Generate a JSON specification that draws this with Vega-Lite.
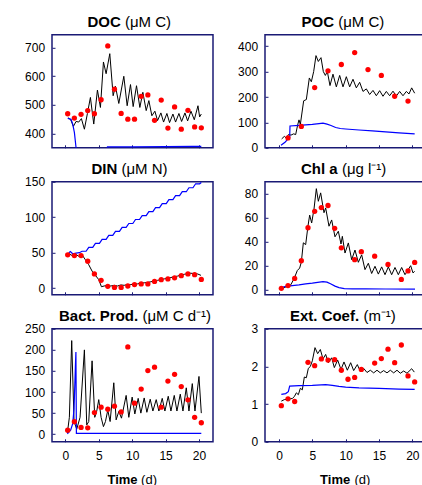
{
  "$schema": "https://vega.github.io/schema/vega-lite/v6.json",
  "padding": {"left": 23, "top": 12.8, "right": 0, "bottom": 0},
  "columns": 2,
  "spacing": {"row": 34, "column": 52},
  "bounds": "flush",
  "align": "each",
  "datasets": {
    "DOC": [
      {"series":"model","day":0.4,"value":455},{"series":"model","day":0.8,"value":448},{"series":"model","day":1.2,"value":425},{"series":"model","day":1.6,"value":442},{"series":"model","day":2.0,"value":440},{"series":"model","day":2.4,"value":452},{"series":"model","day":2.85,"value":415},{"series":"model","day":3.3,"value":470},{"series":"model","day":3.75,"value":526},{"series":"model","day":4.25,"value":433},{"series":"model","day":4.8,"value":552},{"series":"model","day":5.25,"value":491},{"series":"model","day":5.7,"value":650},{"series":"model","day":6.1,"value":609},{"series":"model","day":6.65,"value":679},{"series":"model","day":7.15,"value":532},{"series":"model","day":7.5,"value":565},{"series":"model","day":8.0,"value":505},{"series":"model","day":8.75,"value":600},{"series":"model","day":9.25,"value":497},{"series":"model","day":9.75,"value":571},{"series":"model","day":10.15,"value":494},{"series":"model","day":10.65,"value":567},{"series":"model","day":11.15,"value":491},{"series":"model","day":11.6,"value":544},{"series":"model","day":12.1,"value":480},{"series":"model","day":12.5,"value":515},{"series":"model","day":12.95,"value":462},{"series":"model","day":13.4,"value":478},{"series":"model","day":13.8,"value":445},{"series":"model","day":14.3,"value":472},{"series":"model","day":14.7,"value":440},{"series":"model","day":15.2,"value":470},{"series":"model","day":15.6,"value":438},{"series":"model","day":16.1,"value":468},{"series":"model","day":16.5,"value":440},{"series":"model","day":17.0,"value":470},{"series":"model","day":17.4,"value":442},{"series":"model","day":17.9,"value":472},{"series":"model","day":18.3,"value":444},{"series":"model","day":18.8,"value":478},{"series":"model","day":19.3,"value":448},{"series":"model","day":19.85,"value":497},{"series":"model","day":20.1,"value":458},{"series":"model","day":20.35,"value":468},
      {"series":"alt","day":0.35,"value":453},{"series":"alt","day":0.85,"value":450},{"series":"alt","day":1.1,"value":433},{"series":"alt","day":1.35,"value":404},{"series":"alt","day":1.6,"value":350},{"series":"alt","day":1.7,"value":330},{"series":"alt","day":6.0,"value":330},{"series":"alt","day":6.3,"value":353},{"series":"alt","day":10,"value":353},{"series":"alt","day":15,"value":354},{"series":"alt","day":19,"value":355},{"series":"alt","day":20.35,"value":355},
      {"series":"obs","day":0.35,"value":469},{"series":"obs","day":1.35,"value":454},{"series":"obs","day":2.35,"value":467},{"series":"obs","day":3.35,"value":480},{"series":"obs","day":4.35,"value":469},{"series":"obs","day":5.35,"value":518},{"series":"obs","day":6.35,"value":706},{"series":"obs","day":7.35,"value":555},{"series":"obs","day":8.35,"value":470},{"series":"obs","day":9.35,"value":450},{"series":"obs","day":10.35,"value":450},{"series":"obs","day":11.35,"value":530},{"series":"obs","day":12.35,"value":535},{"series":"obs","day":13.35,"value":446},{"series":"obs","day":14.35,"value":517},{"series":"obs","day":15.35,"value":419},{"series":"obs","day":16.35,"value":493},{"series":"obs","day":17.35,"value":415},{"series":"obs","day":18.35,"value":481},{"series":"obs","day":19.35,"value":423},{"series":"obs","day":20.35,"value":420}
    ],
    "POC": [
      {"series":"model","day":0.4,"value":35},{"series":"model","day":0.8,"value":45},{"series":"model","day":1.1,"value":38},{"series":"model","day":1.4,"value":52},{"series":"model","day":1.8,"value":50},{"series":"model","day":2.2,"value":55},{"series":"model","day":2.5,"value":52},{"series":"model","day":2.8,"value":90},{"series":"model","day":3.0,"value":110},{"series":"model","day":3.2,"value":92},{"series":"model","day":3.7,"value":185},{"series":"model","day":4.1,"value":190},{"series":"model","day":4.55,"value":275},{"series":"model","day":4.85,"value":260},{"series":"model","day":5.2,"value":300},{"series":"model","day":5.55,"value":363},{"series":"model","day":5.9,"value":340},{"series":"model","day":6.3,"value":355},{"series":"model","day":6.65,"value":300},{"series":"model","day":6.95,"value":285},{"series":"model","day":7.25,"value":300},{"series":"model","day":7.65,"value":245},{"series":"model","day":8.1,"value":290},{"series":"model","day":8.6,"value":240},{"series":"model","day":9.1,"value":285},{"series":"model","day":9.6,"value":240},{"series":"model","day":10.1,"value":280},{"series":"model","day":10.6,"value":240},{"series":"model","day":11.1,"value":270},{"series":"model","day":11.6,"value":236},{"series":"model","day":12.1,"value":258},{"series":"model","day":12.6,"value":222},{"series":"model","day":13.1,"value":232},{"series":"model","day":13.6,"value":210},{"series":"model","day":14.1,"value":226},{"series":"model","day":14.6,"value":205},{"series":"model","day":15.1,"value":225},{"series":"model","day":15.6,"value":203},{"series":"model","day":16.1,"value":222},{"series":"model","day":16.6,"value":205},{"series":"model","day":17.1,"value":223},{"series":"model","day":17.6,"value":204},{"series":"model","day":18.1,"value":222},{"series":"model","day":18.6,"value":205},{"series":"model","day":19.1,"value":222},{"series":"model","day":19.5,"value":212},{"series":"model","day":19.9,"value":236},{"series":"model","day":20.35,"value":215},
      {"series":"alt","day":0.3,"value":10},{"series":"alt","day":0.9,"value":22},{"series":"alt","day":1.3,"value":33},{"series":"alt","day":1.6,"value":40},{"series":"alt","day":1.65,"value":86},{"series":"alt","day":3,"value":88},{"series":"alt","day":4,"value":90},{"series":"alt","day":5,"value":92},{"series":"alt","day":6,"value":95},{"series":"alt","day":6.6,"value":97},{"series":"alt","day":7.2,"value":93},{"series":"alt","day":7.8,"value":88},{"series":"alt","day":8.5,"value":80},{"series":"alt","day":9.2,"value":76},{"series":"alt","day":10,"value":74},{"series":"alt","day":12,"value":70},{"series":"alt","day":14,"value":67},{"series":"alt","day":16,"value":63},{"series":"alt","day":18,"value":59},{"series":"alt","day":20.35,"value":55},
      {"series":"obs","day":1.35,"value":39},{"series":"obs","day":3.35,"value":84},{"series":"obs","day":5.35,"value":237},{"series":"obs","day":7.35,"value":303},{"series":"obs","day":9.35,"value":328},{"series":"obs","day":11.35,"value":375},{"series":"obs","day":13.35,"value":308},{"series":"obs","day":15.35,"value":285},{"series":"obs","day":17.35,"value":203},{"series":"obs","day":19.35,"value":184}
    ],
    "DIN": [
      {"series":"model","day":0.5,"value":49},{"series":"model","day":1.0,"value":46},{"series":"model","day":1.5,"value":48},{"series":"model","day":2.0,"value":45},{"series":"model","day":2.5,"value":47},{"series":"model","day":3.0,"value":40},{"series":"model","day":3.5,"value":33},{"series":"model","day":4.0,"value":24},{"series":"model","day":4.5,"value":18},{"series":"model","day":5.0,"value":12},{"series":"model","day":5.4,"value":2},{"series":"model","day":5.8,"value":3},{"series":"model","day":6.3,"value":4},{"series":"model","day":6.8,"value":3},{"series":"model","day":7.3,"value":4},{"series":"model","day":7.8,"value":3},{"series":"model","day":8.3,"value":4.5},{"series":"model","day":8.8,"value":4},{"series":"model","day":9.3,"value":5},{"series":"model","day":9.8,"value":5},{"series":"model","day":10.3,"value":6},{"series":"model","day":10.8,"value":6},{"series":"model","day":11.3,"value":7},{"series":"model","day":11.8,"value":7.5},{"series":"model","day":12.3,"value":8},{"series":"model","day":12.8,"value":9},{"series":"model","day":13.3,"value":10},{"series":"model","day":13.8,"value":11},{"series":"model","day":14.3,"value":12},{"series":"model","day":14.8,"value":13},{"series":"model","day":15.3,"value":14},{"series":"model","day":15.8,"value":15},{"series":"model","day":16.3,"value":16},{"series":"model","day":16.8,"value":17},{"series":"model","day":17.3,"value":18.5},{"series":"model","day":17.8,"value":19.5},{"series":"model","day":18.3,"value":20.5},{"series":"model","day":18.8,"value":21},{"series":"model","day":19.3,"value":20.5},{"series":"model","day":19.8,"value":20},{"series":"model","day":20.3,"value":18},
      {"series":"alt","day":0.5,"value":50},{"series":"alt","day":0.75,"value":51.5},{"series":"alt","day":1.1,"value":48.5},{"series":"alt","day":1.6,"value":49.5},{"series":"alt","day":2.1,"value":50},{"series":"alt","day":2.5,"value":52},{"series":"alt","day":3.1,"value":52},{"series":"alt","day":3.5,"value":57.6},{"series":"alt","day":4.1,"value":57.6},{"series":"alt","day":4.5,"value":63.2},{"series":"alt","day":5.1,"value":63.2},{"series":"alt","day":5.5,"value":68.8},{"series":"alt","day":6.1,"value":68.8},{"series":"alt","day":6.5,"value":74.4},{"series":"alt","day":7.1,"value":74.4},{"series":"alt","day":7.5,"value":80},{"series":"alt","day":8.1,"value":80},{"series":"alt","day":8.5,"value":85.6},{"series":"alt","day":9.1,"value":85.6},{"series":"alt","day":9.5,"value":91.2},{"series":"alt","day":10.1,"value":91.2},{"series":"alt","day":10.5,"value":96.8},{"series":"alt","day":11.1,"value":96.8},{"series":"alt","day":11.5,"value":102.4},{"series":"alt","day":12.1,"value":102.4},{"series":"alt","day":12.5,"value":108},{"series":"alt","day":13.1,"value":108},{"series":"alt","day":13.5,"value":113.6},{"series":"alt","day":14.1,"value":113.6},{"series":"alt","day":14.5,"value":119.2},{"series":"alt","day":15.1,"value":119.2},{"series":"alt","day":15.5,"value":124.8},{"series":"alt","day":16.1,"value":124.8},{"series":"alt","day":16.5,"value":130.4},{"series":"alt","day":17.1,"value":130.4},{"series":"alt","day":17.5,"value":136},{"series":"alt","day":18.1,"value":136},{"series":"alt","day":18.5,"value":141.6},{"series":"alt","day":19.1,"value":141.6},{"series":"alt","day":19.5,"value":147.2},{"series":"alt","day":20.1,"value":147.2},{"series":"alt","day":20.35,"value":149},
      {"series":"obs","day":0.35,"value":47},{"series":"obs","day":1.35,"value":46},{"series":"obs","day":2.35,"value":46},{"series":"obs","day":3.35,"value":38},{"series":"obs","day":4.35,"value":20},{"series":"obs","day":5.35,"value":11},{"series":"obs","day":6.35,"value":2.5},{"series":"obs","day":7.35,"value":1},{"series":"obs","day":8.35,"value":1},{"series":"obs","day":9.35,"value":3},{"series":"obs","day":10.35,"value":5},{"series":"obs","day":11.35,"value":6},{"series":"obs","day":12.35,"value":6},{"series":"obs","day":13.35,"value":9.5},{"series":"obs","day":14.35,"value":12},{"series":"obs","day":15.35,"value":13},{"series":"obs","day":16.35,"value":14.6},{"series":"obs","day":17.35,"value":17.5},{"series":"obs","day":18.35,"value":20},{"series":"obs","day":19.35,"value":19},{"series":"obs","day":20.35,"value":12.3}
    ],
    "CHL": [
      {"series":"model","day":0.35,"value":0.8},{"series":"model","day":1.0,"value":2.2},{"series":"model","day":1.75,"value":4},{"series":"model","day":2.25,"value":9},{"series":"model","day":2.75,"value":16},{"series":"model","day":3.1,"value":18},{"series":"model","day":3.35,"value":23},{"series":"model","day":3.65,"value":39},{"series":"model","day":4.0,"value":37.5},{"series":"model","day":4.35,"value":53},{"series":"model","day":4.6,"value":62},{"series":"model","day":4.9,"value":55.5},{"series":"model","day":5.25,"value":67},{"series":"model","day":5.6,"value":84},{"series":"model","day":5.9,"value":73.5},{"series":"model","day":6.25,"value":80.5},{"series":"model","day":6.75,"value":64},{"series":"model","day":7.0,"value":68},{"series":"model","day":7.5,"value":52.8},{"series":"model","day":7.9,"value":58},{"series":"model","day":8.4,"value":44},{"series":"model","day":8.9,"value":48.6},{"series":"model","day":9.3,"value":38},{"series":"model","day":9.5,"value":44.4},{"series":"model","day":9.9,"value":30.5},{"series":"model","day":10.4,"value":38.9},{"series":"model","day":10.9,"value":25},{"series":"model","day":11.4,"value":33},{"series":"model","day":11.9,"value":22.8},{"series":"model","day":12.4,"value":29},{"series":"model","day":12.9,"value":16.7},{"series":"model","day":13.4,"value":22},{"series":"model","day":13.9,"value":13.5},{"series":"model","day":14.4,"value":19.5},{"series":"model","day":14.9,"value":13},{"series":"model","day":15.4,"value":19},{"series":"model","day":15.9,"value":12.5},{"series":"model","day":16.4,"value":19},{"series":"model","day":16.9,"value":12.5},{"series":"model","day":17.4,"value":18.5},{"series":"model","day":17.9,"value":12.5},{"series":"model","day":18.4,"value":18.5},{"series":"model","day":18.9,"value":12.5},{"series":"model","day":19.3,"value":16},{"series":"model","day":19.75,"value":20},{"series":"model","day":20.1,"value":14},{"series":"model","day":20.35,"value":15.3},
      {"series":"alt","day":0.35,"value":1.8},{"series":"alt","day":1,"value":2.8},{"series":"alt","day":2,"value":3.5},{"series":"alt","day":3,"value":4},{"series":"alt","day":4,"value":4.8},{"series":"alt","day":5,"value":5.5},{"series":"alt","day":5.8,"value":6.2},{"series":"alt","day":6.6,"value":6.8},{"series":"alt","day":7.2,"value":6.3},{"series":"alt","day":7.8,"value":4.8},{"series":"alt","day":8.4,"value":3},{"series":"alt","day":9,"value":1.8},{"series":"alt","day":9.8,"value":1},{"series":"alt","day":11,"value":0.8},{"series":"alt","day":13,"value":0.7},{"series":"alt","day":16,"value":0.6},{"series":"alt","day":20.4,"value":0.5},
      {"series":"obs","day":0.35,"value":1.2},{"series":"obs","day":1.35,"value":3.5},{"series":"obs","day":2.35,"value":9.4},{"series":"obs","day":3.35,"value":24.1},{"series":"obs","day":4.35,"value":51.5},{"series":"obs","day":5.35,"value":65.2},{"series":"obs","day":6.35,"value":68.3},{"series":"obs","day":7.35,"value":70},{"series":"obs","day":8.35,"value":51},{"series":"obs","day":9.35,"value":34.8},{"series":"obs","day":11.35,"value":25},{"series":"obs","day":12.35,"value":31.6},{"series":"obs","day":14.35,"value":27.9},{"series":"obs","day":16.35,"value":21},{"series":"obs","day":18.35,"value":8.6},{"series":"obs","day":19.35,"value":15.6},{"series":"obs","day":20.35,"value":22.7}
    ],
    "BP": [
      {"series":"model","day":0.3,"value":3},{"series":"model","day":0.6,"value":40},{"series":"model","day":0.95,"value":222},{"series":"model","day":1.3,"value":30},{"series":"model","day":1.7,"value":12},{"series":"model","day":2.2,"value":40},{"series":"model","day":2.85,"value":200},{"series":"model","day":3.2,"value":22},{"series":"model","day":3.5,"value":30},{"series":"model","day":4.0,"value":174},{"series":"model","day":4.4,"value":40},{"series":"model","day":4.7,"value":55},{"series":"model","day":5.0,"value":82},{"series":"model","day":5.35,"value":40},{"series":"model","day":5.7,"value":18},{"series":"model","day":6.0,"value":30},{"series":"model","day":6.35,"value":57},{"series":"model","day":6.7,"value":30},{"series":"model","day":7.25,"value":122},{"series":"model","day":7.6,"value":34},{"series":"model","day":8.0,"value":54},{"series":"model","day":8.4,"value":38},{"series":"model","day":9.1,"value":92},{"series":"model","day":9.5,"value":40},{"series":"model","day":10.0,"value":88},{"series":"model","day":10.4,"value":48},{"series":"model","day":10.9,"value":85},{"series":"model","day":11.3,"value":50},{"series":"model","day":11.8,"value":86},{"series":"model","day":12.2,"value":52},{"series":"model","day":12.7,"value":83},{"series":"model","day":13.1,"value":55},{"series":"model","day":13.6,"value":82},{"series":"model","day":14.0,"value":55},{"series":"model","day":14.5,"value":85},{"series":"model","day":14.9,"value":55},{"series":"model","day":15.4,"value":90},{"series":"model","day":15.8,"value":55},{"series":"model","day":16.3,"value":92},{"series":"model","day":16.7,"value":55},{"series":"model","day":17.2,"value":95},{"series":"model","day":17.6,"value":55},{"series":"model","day":18.1,"value":110},{"series":"model","day":18.5,"value":55},{"series":"model","day":19.0,"value":120},{"series":"model","day":19.4,"value":55},{"series":"model","day":20.0,"value":137},{"series":"model","day":20.35,"value":50},
      {"series":"alt","day":0.3,"value":1},{"series":"alt","day":0.8,"value":10},{"series":"alt","day":1.1,"value":25},{"series":"alt","day":1.3,"value":60},{"series":"alt","day":1.5,"value":160},{"series":"alt","day":1.58,"value":195},{"series":"alt","day":1.65,"value":2},{"series":"alt","day":3,"value":2},{"series":"alt","day":6,"value":2},{"series":"alt","day":10,"value":2},{"series":"alt","day":15,"value":2},{"series":"alt","day":20.35,"value":2},
      {"series":"obs","day":0.35,"value":9.6},{"series":"obs","day":1.35,"value":29.6},{"series":"obs","day":2.35,"value":16},{"series":"obs","day":3.35,"value":15.2},{"series":"obs","day":4.35,"value":51.2},{"series":"obs","day":5.35,"value":64},{"series":"obs","day":6.35,"value":59.2},{"series":"obs","day":7.35,"value":66.4},{"series":"obs","day":8.35,"value":52.8},{"series":"obs","day":9.35,"value":207},{"series":"obs","day":10.35,"value":73.6},{"series":"obs","day":11.35,"value":107},{"series":"obs","day":12.35,"value":151},{"series":"obs","day":13.35,"value":159},{"series":"obs","day":14.35,"value":64},{"series":"obs","day":15.35,"value":126},{"series":"obs","day":16.35,"value":142},{"series":"obs","day":17.35,"value":113},{"series":"obs","day":18.35,"value":81.6},{"series":"obs","day":19.35,"value":40},{"series":"obs","day":20.35,"value":27.2}
    ],
    "EXT": [
      {"series":"model","day":0.35,"value":1.08},{"series":"model","day":0.8,"value":1.12},{"series":"model","day":1.2,"value":1.13},{"series":"model","day":1.6,"value":1.14},{"series":"model","day":2.0,"value":1.15},{"series":"model","day":2.3,"value":1.2},{"series":"model","day":2.6,"value":1.3},{"series":"model","day":2.9,"value":1.25},{"series":"model","day":3.2,"value":1.42},{"series":"model","day":3.5,"value":1.38},{"series":"model","day":3.8,"value":1.72},{"series":"model","day":4.1,"value":1.7},{"series":"model","day":4.4,"value":1.95},{"series":"model","day":4.7,"value":2.0},{"series":"model","day":5.0,"value":2.15},{"series":"model","day":5.4,"value":2.5},{"series":"model","day":5.8,"value":2.34},{"series":"model","day":6.2,"value":2.45},{"series":"model","day":6.6,"value":2.2},{"series":"model","day":7.0,"value":2.32},{"series":"model","day":7.4,"value":2.1},{"series":"model","day":7.9,"value":2.23},{"series":"model","day":8.3,"value":1.97},{"series":"model","day":8.8,"value":2.17},{"series":"model","day":9.3,"value":1.92},{"series":"model","day":9.75,"value":2.12},{"series":"model","day":10.25,"value":1.9},{"series":"model","day":10.75,"value":2.1},{"series":"model","day":11.2,"value":1.89},{"series":"model","day":11.75,"value":2.05},{"series":"model","day":12.2,"value":1.87},{"series":"model","day":12.7,"value":1.95},{"series":"model","day":13.2,"value":1.84},{"series":"model","day":13.7,"value":1.9},{"series":"model","day":14.2,"value":1.83},{"series":"model","day":14.7,"value":1.9},{"series":"model","day":15.2,"value":1.83},{"series":"model","day":15.7,"value":1.89},{"series":"model","day":16.2,"value":1.83},{"series":"model","day":16.7,"value":1.9},{"series":"model","day":17.2,"value":1.83},{"series":"model","day":17.7,"value":1.9},{"series":"model","day":18.2,"value":1.82},{"series":"model","day":18.7,"value":1.88},{"series":"model","day":19.2,"value":1.82},{"series":"model","day":19.9,"value":1.94},{"series":"model","day":20.3,"value":1.85},
      {"series":"alt","day":0.35,"value":1.26},{"series":"alt","day":1.0,"value":1.28},{"series":"alt","day":1.4,"value":1.33},{"series":"alt","day":1.6,"value":1.48},{"series":"alt","day":3,"value":1.49},{"series":"alt","day":5,"value":1.5},{"series":"alt","day":7,"value":1.52},{"series":"alt","day":8,"value":1.5},{"series":"alt","day":9,"value":1.47},{"series":"alt","day":10,"value":1.45},{"series":"alt","day":12,"value":1.43},{"series":"alt","day":15,"value":1.42},{"series":"alt","day":18,"value":1.4},{"series":"alt","day":20.35,"value":1.39},
      {"series":"obs","day":0.35,"value":0.96},{"series":"obs","day":1.35,"value":1.14},{"series":"obs","day":2.35,"value":1.07},{"series":"obs","day":4.35,"value":2.11},{"series":"obs","day":5.35,"value":2.02},{"series":"obs","day":6.35,"value":2.2},{"series":"obs","day":7.35,"value":2.17},{"series":"obs","day":8.35,"value":2.18},{"series":"obs","day":9.35,"value":1.9},{"series":"obs","day":10.35,"value":1.66},{"series":"obs","day":11.35,"value":1.71},{"series":"obs","day":12.35,"value":1.92},{"series":"obs","day":14.35,"value":2.09},{"series":"obs","day":15.35,"value":2.21},{"series":"obs","day":16.35,"value":2.46},{"series":"obs","day":17.35,"value":2.1},{"series":"obs","day":18.35,"value":2.57},{"series":"obs","day":19.35,"value":1.75},{"series":"obs","day":20.35,"value":1.59}
    ]
  },
  "concat": [
    {
      "width": 161, "height": 113,
      "data": {"name": "DOC"},
      "encoding": {
        "x": {"field": "day", "type": "quantitative", "scale": {"domain": [-2, 22.1], "nice": false, "zero": false}, "axis": {"values": [0, 5, 10, 15, 20], "labels": false, "title": "(\u03bcM C)", "titleX": 72.5, "titleY": -121.5}},
        "y": {"field": "value", "type": "quantitative", "scale": {"domain": [350, 745], "nice": false, "zero": false}, "axis": {"values": [400, 500, 600, 700], "title": "DOC", "titleX": 35, "titleY": -8.5}}
      },
      "layer": [
        {"transform": [{"filter": "datum.series === 'model'"}], "mark": {"type": "line", "color": "#000000", "strokeWidth": 1, "clip": true}, "encoding": {}},
        {"transform": [{"filter": "datum.series === 'alt'"}], "mark": {"type": "line", "color": "#0000ff", "strokeWidth": 1.2, "clip": true}, "encoding": {}},
        {"transform": [{"filter": "datum.series === 'obs'"}], "mark": {"type": "circle", "color": "#ff0000", "size": 28, "opacity": 1}, "encoding": {}}
      ]
    },
    {
      "width": 158, "height": 113,
      "data": {"name": "POC"},
      "encoding": {
        "x": {"field": "day", "type": "quantitative", "scale": {"domain": [-2.1, 21.6], "nice": false, "zero": false}, "axis": {"values": [0, 5, 10, 15, 20], "labels": false, "title": "(\u03bcM C)", "titleX": 72.7, "titleY": -121.5}},
        "y": {"field": "value", "type": "quantitative", "scale": {"domain": [0, 445], "nice": false, "zero": false}, "axis": {"values": [0, 100, 200, 300, 400], "title": "POC", "titleX": 36, "titleY": -8.5}}
      },
      "layer": [
        {"transform": [{"filter": "datum.series === 'model'"}], "mark": {"type": "line", "color": "#000000", "strokeWidth": 1, "clip": true}, "encoding": {}},
        {"transform": [{"filter": "datum.series === 'alt'"}], "mark": {"type": "line", "color": "#0000ff", "strokeWidth": 1.2, "clip": true}, "encoding": {}},
        {"transform": [{"filter": "datum.series === 'obs'"}], "mark": {"type": "circle", "color": "#ff0000", "size": 28, "opacity": 1}, "encoding": {}}
      ]
    },
    {
      "width": 161, "height": 113,
      "data": {"name": "DIN"},
      "encoding": {
        "x": {"field": "day", "type": "quantitative", "scale": {"domain": [-2, 22.1], "nice": false, "zero": false}, "axis": {"values": [0, 5, 10, 15, 20], "labels": false, "title": "(\u03bcM N)", "titleX": 69, "titleY": -121.5}},
        "y": {"field": "value", "type": "quantitative", "scale": {"domain": [-9.4, 150], "nice": false, "zero": false}, "axis": {"values": [0, 50, 100, 150], "title": "DIN", "titleX": 39, "titleY": -8.5}}
      },
      "layer": [
        {"transform": [{"filter": "datum.series === 'model'"}], "mark": {"type": "line", "color": "#000000", "strokeWidth": 1, "clip": true}, "encoding": {}},
        {"transform": [{"filter": "datum.series === 'alt'"}], "mark": {"type": "line", "color": "#0000ff", "strokeWidth": 1.2, "clip": true}, "encoding": {}},
        {"transform": [{"filter": "datum.series === 'obs'"}], "mark": {"type": "circle", "color": "#ff0000", "size": 28, "opacity": 1}, "encoding": {}}
      ]
    },
    {
      "width": 158, "height": 113,
      "data": {"name": "CHL"},
      "encoding": {
        "x": {"field": "day", "type": "quantitative", "scale": {"domain": [-2.1, 21.6], "nice": false, "zero": false}, "axis": {"values": [0, 5, 10, 15, 20], "labels": false, "title": "(\u03bcg l\u207b\u00b9)", "titleX": 76.4, "titleY": -121.5}},
        "y": {"field": "value", "type": "quantitative", "scale": {"domain": [-4.2, 89.7], "nice": false, "zero": false}, "axis": {"values": [0, 20, 40, 60, 80], "title": "Chl a", "titleX": 35.5, "titleY": -8.5}}
      },
      "layer": [
        {"transform": [{"filter": "datum.series === 'model'"}], "mark": {"type": "line", "color": "#000000", "strokeWidth": 1, "clip": true}, "encoding": {}},
        {"transform": [{"filter": "datum.series === 'alt'"}], "mark": {"type": "line", "color": "#0000ff", "strokeWidth": 1.2, "clip": true}, "encoding": {}},
        {"transform": [{"filter": "datum.series === 'obs'"}], "mark": {"type": "circle", "color": "#ff0000", "size": 28, "opacity": 1}, "encoding": {}}
      ]
    },
    {
      "width": 161, "height": 113,
      "data": {"name": "BP"},
      "encoding": {
        "y": {"field": "value", "type": "quantitative", "scale": {"domain": [-18, 250], "nice": false, "zero": false}, "axis": {"values": [0, 50, 100, 150, 200, 250], "title": "Bact. Prod.", "titleX": 6.5, "titleY": -8.5}}
      },
      "resolve": {"axis": {"x": "independent"}},
      "layer": [
        {"transform": [{"filter": "datum.series === 'model'"}], "mark": {"type": "line", "color": "#000000", "strokeWidth": 1, "clip": true},
         "encoding": {"x": {"field": "day", "type": "quantitative", "scale": {"domain": [-2, 22.1], "nice": false, "zero": false}, "axis": {"orient": "bottom", "values": [0, 5, 10, 15, 20], "title": "Time", "titleFontWeight": "bold", "titleFontSize": 13, "titleX": 55, "titleY": 41.5}}}},
        {"transform": [{"filter": "datum.series === 'alt'"}], "mark": {"type": "line", "color": "#0000ff", "strokeWidth": 1.2, "clip": true},
         "encoding": {"x": {"field": "day", "type": "quantitative", "axis": {"orient": "bottom", "labels": false, "ticks": false, "title": "(\u03bcM C d\u207b\u00b9)", "titleX": 89.9, "titleY": -121.5}}}},
        {"transform": [{"filter": "datum.series === 'obs'"}], "mark": {"type": "circle", "color": "#ff0000", "size": 28, "opacity": 1},
         "encoding": {"x": {"field": "day", "type": "quantitative", "axis": {"orient": "bottom", "labels": false, "ticks": false, "title": "(d)", "titleFontSize": 13, "titleX": 88.6, "titleY": 41.5}}}}
      ]
    },
    {
      "width": 158, "height": 113,
      "data": {"name": "EXT"},
      "encoding": {
        "y": {"field": "value", "type": "quantitative", "scale": {"domain": [0, 3], "nice": false, "zero": false}, "axis": {"values": [0, 1, 2, 3], "title": "Ext. Coef.", "titleX": 24.5, "titleY": -8.5}}
      },
      "resolve": {"axis": {"x": "independent"}},
      "layer": [
        {"transform": [{"filter": "datum.series === 'model'"}], "mark": {"type": "line", "color": "#000000", "strokeWidth": 1, "clip": true},
         "encoding": {"x": {"field": "day", "type": "quantitative", "scale": {"domain": [-2.1, 21.6], "nice": false, "zero": false}, "axis": {"orient": "bottom", "values": [0, 5, 10, 15, 20], "title": "Time", "titleFontWeight": "bold", "titleFontSize": 13, "titleX": 54.6, "titleY": 41.5}}}},
        {"transform": [{"filter": "datum.series === 'alt'"}], "mark": {"type": "line", "color": "#0000ff", "strokeWidth": 1.2, "clip": true},
         "encoding": {"x": {"field": "day", "type": "quantitative", "axis": {"orient": "bottom", "labels": false, "ticks": false, "title": "(m\u207b\u00b9)", "titleX": 97.9, "titleY": -121.5}}}},
        {"transform": [{"filter": "datum.series === 'obs'"}], "mark": {"type": "circle", "color": "#ff0000", "size": 28, "opacity": 1},
         "encoding": {"x": {"field": "day", "type": "quantitative", "axis": {"orient": "bottom", "labels": false, "ticks": false, "title": "(d)", "titleFontSize": 13, "titleX": 89, "titleY": 41.5}}}}
      ]
    }
  ],
  "config": {
    "font": "Liberation Sans",
    "background": "#ffffff",
    "view": {"stroke": "#1a1a75", "strokeWidth": 1.5},
    "axis": {"domain": false, "grid": false, "tickSize": -3, "tickColor": "#1a1a75", "tickWidth": 1, "labelFont": "Liberation Sans", "labelFontSize": 12, "labelColor": "#000000", "titleFont": "Liberation Sans", "titleColor": "#000000", "titleAngle": 0, "titleAlign": "left", "titleBaseline": "alphabetic"},
    "axisY": {"labelPadding": 10.4, "titleFontSize": 15, "titleFontWeight": "bold"},
    "axisX": {"labelPadding": 11.3, "titleFontSize": 15, "titleFontWeight": "normal"}
  }
}
